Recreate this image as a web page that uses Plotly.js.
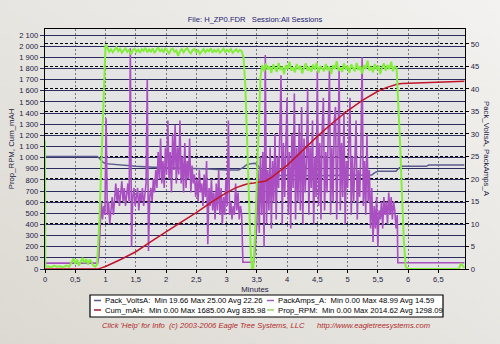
<!DOCTYPE html>
<html><head><meta charset="utf-8">
<script src="https://cdn.plot.ly/plotly-3.0.1.min.js"></script>
<style>html,body{margin:0;padding:0;background:#e9e7e3;}#chart{width:500px;height:344px;}</style>
</head><body><div id="chart"></div>
<script>
// ---------- data (minutes on x) ----------
const voltsT = [0, 0.86, 0.9, 0.95, 1.0, 1.2, 1.5, 1.8, 2.1, 2.4, 2.7, 3.0, 3.2, 3.27, 3.33, 3.4, 3.47, 3.52, 3.57, 3.65, 3.75, 4.0, 4.5, 5.0, 5.4, 5.45, 5.5, 5.8, 5.84, 5.9, 6.3, 6.34, 6.93];
const voltsV = [25.0, 25.0, 24.6, 23.8, 23.4, 23.1, 22.8, 22.6, 22.5, 22.4, 22.2, 22.0, 22.0, 22.5, 23.1, 23.4, 23.5, 23.0, 21.8, 21.0, 20.7, 20.8, 20.7, 20.8, 20.9, 21.4, 21.7, 21.7, 22.3, 22.8, 22.8, 23.1, 23.1];

const ampsPreT = [0, 0.87, 0.89, 0.91];
const ampsPreV = [1.3, 1.3, 2.8, 9];
const ampsSeg1Start = 0.93, ampsSeg1Step = 0.02;
const ampsSeg1 = [15,11,14,12,33.5,12,15,10,14,16,12,17,19,15,18,14,17,19.5,15,18,14,17,19,15,49,5,16,18,14,16,18,13,17,15,18,14,16,19,42,4,16,18,15,20,17,22,18,26,20,29,19,24,18,27,21,33,20,26,17,30,22,32,19,27,21,33,19,25,17,28,18,24,20,29,17,23,19,21,16,20,15,22,17,19,14,21,16,24,5.5,18,14,20,13,17,11,19,13,22,12,18,10,16,12,20,14,33,12,15,11,14,12,19,13,17,11,14,12];
const ampsMidT = [3.27, 3.45, 3.47];
const ampsMidV = [1.5, 1.5, 4];
const ampsSeg2Start = 3.50, ampsSeg2Step = 0.02;
const ampsSeg2 = [10,22,8,25,12,26,5,47.5,10,22,13,27,9,24,15,30,11,25,18,33,43,10,28,16,31,38,12,26,9,30,18,39,11,27,15,32,13,36,10,29,17,24,40,12,27,18,33,10,25,16,44,14,28,11,31,38,13,26,17,30,44,12,27,15,33,36,11,25,44,13,28,16,35,10,24,18,30,38,12,25,15,28,33,11,22,16,27,47,14,24,12,30,15,22,9,18,6,14,9,16,5,13,11,15,9,16,12,15,10,17,12,16,11,15,13,9,12];
const ampsEndT = [5.83, 6.93];
const ampsEndV = [1.4, 1.4];

const mahT = [0, 0.88, 0.92, 1.0, 1.25, 1.5, 1.75, 2.0, 2.25, 2.5, 2.75, 3.0, 3.15, 3.27, 3.35, 3.45, 3.55, 3.65, 3.75, 4.0, 4.25, 4.5, 4.75, 5.0, 5.25, 5.4, 5.5, 5.65, 5.83, 5.9, 6.2, 6.5, 6.93];
const mahV = [0, 0, 8, 22, 85, 155, 245, 335, 420, 505, 600, 685, 728, 752, 765, 772, 778, 790, 825, 930, 1060, 1190, 1310, 1420, 1515, 1565, 1595, 1630, 1660, 1664, 1670, 1677, 1685];

const rpmPreT = [0, 0.005, 0.05, 0.1, 0.15, 0.2, 0.25, 0.3, 0.35, 0.4, 0.44, 0.47, 0.5, 0.53, 0.56, 0.59, 0.62, 0.65, 0.68, 0.71, 0.74, 0.77, 0.8, 0.83, 0.86, 0.9, 0.94, 0.97, 1.0];
const rpmPreV = [1150, 20, 25, 15, 30, 20, 25, 15, 30, 20, 60, 95, 45, 85, 30, 70, 100, 55, 90, 40, 85, 60, 30, 20, 40, 450, 1050, 1600, 2014];
const rpmSeg1Start = 1.03, rpmSeg1Step = 0.03;
const rpmSeg1 = [1985,1950,1972,1945,1968,1990,1955,1975,1942,1965,1980,1948,1970,1925,1962,1978,1950,1968,1940,1975,1958,1985,1945,1970,1952,1980,1938,1965,1990,1950,1972,1944,1985,1960,1930,1968,1978,1950,1962,1912,1955,1975,1945,1968,1982,1950,1935,1965,1975,1948,1962,1930,1958,1975,1945,1968,1955,1980,1942,1965,1950,1972,1940,1962,1978,1948,1966,1952,1975,1940,1960,1972,1948,1965,1955];
const rpmMidT = [3.28, 3.31, 3.34, 3.37, 3.40, 3.42, 3.44, 3.47, 3.50, 3.53, 3.56];
const rpmMidV = [1900, 1650, 1150, 600, 150, 0, 0, 300, 800, 1350, 1720];
const rpmSeg2Start = 3.59, rpmSeg2Step = 0.03;
const rpmSeg2 = [1830,1775,1845,1790,1820,1760,1835,1800,1770,1850,1785,1815,1750,1830,1795,1860,1780,1810,1765,1840,1790,1825,1755,1805,1845,1780,1815,1770,1835,1790,1850,1760,1820,1800,1775,1840,1785,1815,1750,1830,1795,1865,1780,1810,1770,1845,1790,1825,1760,1835,1800,1775,1850,1785,1820,1755,1830,1795,1870,1780,1815,1765,1840,1790,1825,1750,1810,1845,1780,1830,1795,1860,1775,1820,1800];
const rpmEndT = [5.84, 5.87, 5.9, 5.93, 5.96, 6.0, 6.5, 6.84, 6.87, 6.9, 6.93];
const rpmEndV = [1500, 1100, 650, 250, 20, 0, 0, 0, 50, 30, 10];

const seriesNames = ['Pack_VoltsA', 'PackAmps_A', 'Cum_mAH', 'Prop_RPM'];
const seriesStats = ['Min 19.66 Max 25.00 Avg 22.26', 'Min 0.00 Max 48.99 Avg 14.59', 'Min 0.00 Max 1685.00 Avg 835.98', 'Min 0.00 Max 2014.62 Avg 1298.09'];
const seriesColors = ['#5a5a8e', '#a94fc1', '#c0142a', '#84ee3c'];
const legendColors = ['#5a5a8e', '#a060b8', '#a01a2a', '#9ad070'];
const xTitle = 'Minutes';
const leftTitle = 'Prop_RPM, Cum_mAH';
const rightTitle = 'Pack_VoltsA, PackAmps_A';
const chartTitle = 'File: H_ZP0.FDR&nbsp;&nbsp;&nbsp;Session:All Sessions';
const footer = "Click 'Help' for Info&nbsp;&nbsp;(c) 2003-2006 Eagle Tree Systems, LLC&nbsp;&nbsp;&nbsp;&nbsp;&nbsp;&nbsp;http://www.eagletreesystems.com";

// sample-time grid for regularly sampled segments
function grid(start, step, n) { const a = []; for (let i = 0; i < n; i++) a.push(+(start + i * step).toFixed(4)); return a; }

const ampsT = [...ampsPreT, ...grid(ampsSeg1Start, ampsSeg1Step, ampsSeg1.length), ...ampsMidT, ...grid(ampsSeg2Start, ampsSeg2Step, ampsSeg2.length), ...ampsEndT];
const ampsV = [...ampsPreV, ...ampsSeg1, ...ampsMidV, ...ampsSeg2, ...ampsEndV];
const rpmT = [...rpmPreT, ...grid(rpmSeg1Start, rpmSeg1Step, rpmSeg1.length), ...rpmMidT, ...grid(rpmSeg2Start, rpmSeg2Step, rpmSeg2.length), ...rpmEndT];
const rpmV = [...rpmPreV, ...rpmSeg1, ...rpmMidV, ...rpmSeg2, ...rpmEndV];

// ---------- layout helpers ----------
const W = 500, H = 344, L = 45, R = 35, T = 29, B = 75;
const PW = W - L - R, PH = H - T - B;
const px = x => (x - L) / PW;
const py = y => (H - B - y) / PH;
const FONT = 'Liberation Sans, Arial, sans-serif';

const traces = [
  {x: voltsT, y: voltsV, yaxis: 'y', name: seriesNames[0], mode: 'lines', line: {color: seriesColors[0], width: 1.5}},
  {x: ampsT, y: ampsV, yaxis: 'y', name: seriesNames[1], mode: 'lines', line: {color: seriesColors[1], width: 1.6}},
  {x: mahT, y: mahV, yaxis: 'y2', name: seriesNames[2], mode: 'lines', line: {color: seriesColors[2], width: 1.5}},
  {x: rpmT, y: rpmV, yaxis: 'y2', name: seriesNames[3], mode: 'lines', line: {color: seriesColors[3], width: 2}},
];

const shapes = [
  {type: 'rect', xref: 'paper', yref: 'paper', x0: 0, x1: 1, y0: 0, y1: 1, fillcolor: '#e4e4e4', line: {width: 0}, layer: 'below'},
  {type: 'rect', xref: 'paper', yref: 'paper', x0: px(90), x1: px(443), y0: py(317), y1: py(295), fillcolor: '#ffffff', line: {color: '#000000', width: 1.2}},
];
const annotations = [
  {text: rightTitle, xref: 'paper', yref: 'paper', x: px(487), y: py(149), textangle: 90, showarrow: false, font: {family: FONT, size: 7.8, color: '#1a1a40'}, xanchor: 'center', yanchor: 'middle'},
  {text: '<i>' + footer + '</i>', xref: 'paper', yref: 'paper', x: px(266), y: py(325), showarrow: false, font: {family: FONT, size: 7.6, color: '#b02a2a'}, xanchor: 'center', yanchor: 'middle'},
];
const legendPos = [[94, 300.5], [267, 300.5], [94, 310], [267, 310]];
for (let i = 0; i < 4; i++) {
  const [lx, ly] = legendPos[i];
  shapes.push({type: 'line', xref: 'paper', yref: 'paper', x0: px(lx), x1: px(lx + 7), y0: py(ly), y1: py(ly), line: {color: legendColors[i], width: 1.5}});
  annotations.push({text: seriesNames[i] + ':&nbsp;&nbsp;' + seriesStats[i], xref: 'paper', yref: 'paper', x: px(lx + 9), y: py(ly), xanchor: 'left', yanchor: 'middle', showarrow: false, font: {family: FONT, size: 7.7, color: '#000000'}});
}

const bgSvg = '<svg xmlns="http://www.w3.org/2000/svg" width="500" height="344"><defs><linearGradient id="g" x1="1" y1="0" x2="0" y2="1"><stop offset="0" stop-color="#f3f2f0"/><stop offset="1" stop-color="#dcd9d2"/></linearGradient></defs><rect width="500" height="344" fill="url(#g)"/></svg>';

const tickFont = {family: FONT, size: 7.6, color: '#1a1a40'};
const layout = {
  width: W, height: H,
  margin: {l: L, r: R, t: T, b: B},
  paper_bgcolor: '#e9e7e3', plot_bgcolor: 'rgba(0,0,0,0)',
  separators: ', ',
  showlegend: false,
  font: {family: FONT, size: 8, color: '#1a1a40'},
  title: {text: chartTitle, x: 0.5, xref: 'paper', xanchor: 'center', y: 1 - 19 / H, yref: 'container', yanchor: 'middle', font: {family: FONT, size: 7.6, color: '#1a1a70'}},
  xaxis: {range: [0, 6.94], tick0: 0, dtick: 0.5, showgrid: true, gridcolor: '#7a7a7a', griddash: '2px,2px', gridwidth: 1,
    zeroline: false, showline: true, mirror: true, linecolor: '#000000', linewidth: 1.3,
    ticks: 'outside', ticklen: 3, tickcolor: '#000000', tickfont: tickFont,
    title: {text: xTitle, standoff: 3, font: {family: FONT, size: 7.8, color: '#1a1a40'}}},
  yaxis: {side: 'right', range: [0, 53.3], tick0: 0, dtick: 5, showgrid: true, gridcolor: '#000000', griddash: '3px,2px', gridwidth: 1,
    zeroline: false, showline: true, linecolor: '#000000', linewidth: 1.3,
    ticks: 'outside', ticklen: 3, tickcolor: '#000000', tickfont: tickFont},
  yaxis2: {overlaying: 'y', side: 'left', range: [0, 2154], tick0: 0, dtick: 100, tickformat: ',d', showgrid: true, gridcolor: '#2c2c5c', gridwidth: 1,
    zeroline: false, showline: true, linecolor: '#000000', linewidth: 1.3,
    ticks: 'outside', ticklen: 4, tickcolor: '#2c2c5c', tickfont: tickFont,
    title: {text: leftTitle, standoff: 3, font: {family: FONT, size: 7.8, color: '#1a1a40'}}},
  shapes: shapes,
  annotations: annotations,
  images: [{source: 'data:image/svg+xml;charset=utf-8,' + encodeURIComponent(bgSvg), xref: 'paper', yref: 'paper', x: px(0), y: py(0), sizex: W / PW, sizey: H / PH, xanchor: 'left', yanchor: 'top', sizing: 'stretch', layer: 'below'}],
};

Plotly.newPlot('chart', traces, layout, {staticPlot: true, displayModeBar: false});
</script>
</body></html>
